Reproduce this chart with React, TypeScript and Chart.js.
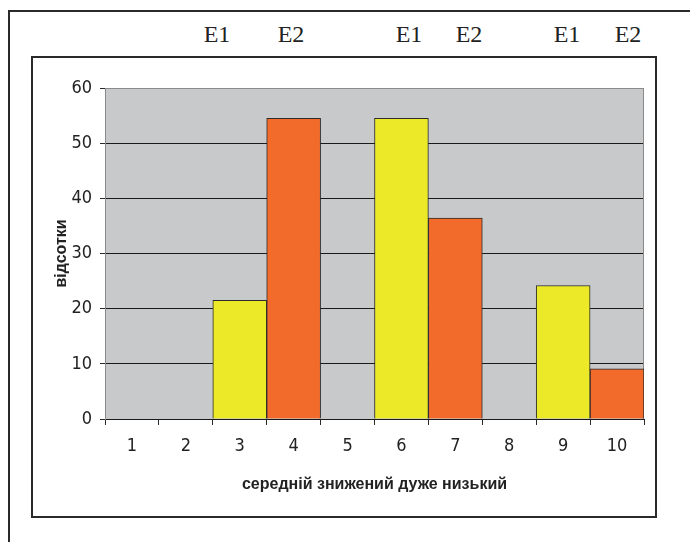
import React, { useEffect, useRef } from "react";
import { Chart, registerables } from "chart.js";

Chart.register(...registerables);

const categories = ["1", "2", "3", "4", "5", "6", "7", "8", "9", "10"];
const groups = ["", "", "E1", "E2", "", "E1", "E2", "", "E1", "E2"];
const values: (number | null)[] = [null, null, 21.5, 54.5, null, 54.5, 36.4, null, 24.2, 9.1];
const topLabels = ["E1", "E2", "E1", "E2", "E1", "E2"];
const yTicks = [0, 10, 20, 30, 40, 50, 60];
const xTitle = "середній знижений дуже низький";
const yTitle = "відсотки";

const E1_COLOR = "#ece928";
const E2_COLOR = "#f26b2b";
const NARROW = '"Liberation Sans Narrow", "Arial Narrow", "DejaVu Sans Condensed", sans-serif';
const BOLD = '"Liberation Sans", Arial, sans-serif';

const topLabelX = [217, 291, 409, 469, 567, 628];

export default function App() {
  const ref = useRef<HTMLCanvasElement | null>(null);

  useEffect(() => {
    if (!ref.current) return;
    const plotBg = {
      id: "plotBg",
      beforeDraw(chart: any) {
        const { ctx, chartArea } = chart;
        ctx.save();
        ctx.fillStyle = "#c8c9cb";
        ctx.fillRect(chartArea.left, chartArea.top, chartArea.right - chartArea.left, chartArea.bottom - chartArea.top);
        ctx.restore();
      },
      beforeDatasetsDraw(chart: any) {
        const { ctx, chartArea } = chart;
        ctx.save();
        ctx.strokeStyle = "#8a8a8a";
        ctx.lineWidth = 1;
        ctx.beginPath();
        ctx.moveTo(Math.round(chartArea.right) - 0.5, chartArea.top);
        ctx.lineTo(Math.round(chartArea.right) - 0.5, chartArea.bottom);
        ctx.stroke();
        ctx.restore();
      },
    };

    const chart = new Chart(ref.current, {
      type: "bar",
      data: {
        labels: categories,
        datasets: [
          {
            data: values,
            backgroundColor: groups.map((g) => (g === "E1" ? E1_COLOR : E2_COLOR)),
            borderColor: "#2a2a2a",
            borderWidth: 1,
            barPercentage: 1,
            categoryPercentage: 1,
          },
        ],
      },
      options: {
        animation: false,
        responsive: false,
        devicePixelRatio: 1,
        layout: { padding: { top: 30, right: 11, left: 0, bottom: 0 } },
        plugins: { legend: { display: false }, tooltip: { enabled: false } },
        scales: {
          x: {
            afterFit(scale: any) {
              scale.height = 97;
            },
            grid: {
              display: true,
              offset: true,
              drawOnChartArea: false,
              drawTicks: true,
              tickLength: 6,
              color: "#2a2a2a",
            },
            border: { display: true, color: "#1a1a1a", width: 1 },
            ticks: {
              color: "#222",
              font: { family: NARROW, size: 18 },
              padding: 11,
              maxRotation: 0,
            },
            title: {
              display: true,
              text: xTitle,
              color: "#222",
              font: { family: BOLD, size: 16, weight: "bold" },
              padding: { top: 0, bottom: 22 },
            },
          },
          y: {
            min: 0,
            max: 60,
            afterFit(scale: any) {
              scale.width = 72;
            },
            afterBuildTicks(scale: any) {
              scale.ticks = yTicks.map((v) => ({ value: v }));
            },
            grid: {
              color: (c: any) => (c.tick && c.tick.value === 60 ? "#8a8a8a" : "#1a1a1a"),
              tickColor: "#2a2a2a",
              drawTicks: true,
              tickLength: 5,
              lineWidth: 1,
            },
            border: { display: true, color: "#8a8a8a", width: 1 },
            ticks: {
              color: "#222",
              font: { family: NARROW, size: 18 },
              padding: 8,
              stepSize: 10,
            },
            title: {
              display: true,
              text: yTitle,
              color: "#222",
              font: { family: BOLD, size: 16, weight: "bold" },
              padding: { top: 19, bottom: 0 },
            },
          },
        },
      },
      plugins: [plotBg],
    } as any);
    return () => chart.destroy();
  }, []);

  return (
    <div
      style={{
        position: "fixed",
        left: 0,
        top: 0,
        width: 690,
        height: 542,
        overflow: "hidden",
        background: "#fff",
      }}
    >
      <div
        style={{
          position: "absolute",
          left: 8,
          top: 10,
          width: 720,
          height: 600,
          border: "2px solid #2a2a2a",
          boxSizing: "border-box",
        }}
      />
      {topLabels.map((t, i) => (
        <div
          key={i}
          style={{
            position: "absolute",
            left: topLabelX[i] - 30,
            width: 60,
            top: 19,
            textAlign: "center",
            fontFamily: '"Liberation Serif", "Times New Roman", serif',
            fontSize: 24,
            lineHeight: "30px",
            color: "#222",
          }}
        >
          {t}
        </div>
      ))}
      <div
        style={{
          position: "absolute",
          left: 31,
          top: 56,
          width: 626,
          height: 462,
          border: "2px solid #2a2a2a",
          boxSizing: "border-box",
          background: "#fff",
        }}
      >
        <canvas ref={ref} width={622} height={458} style={{ display: "block", width: 622, height: 458 }} />
      </div>
    </div>
  );
}
